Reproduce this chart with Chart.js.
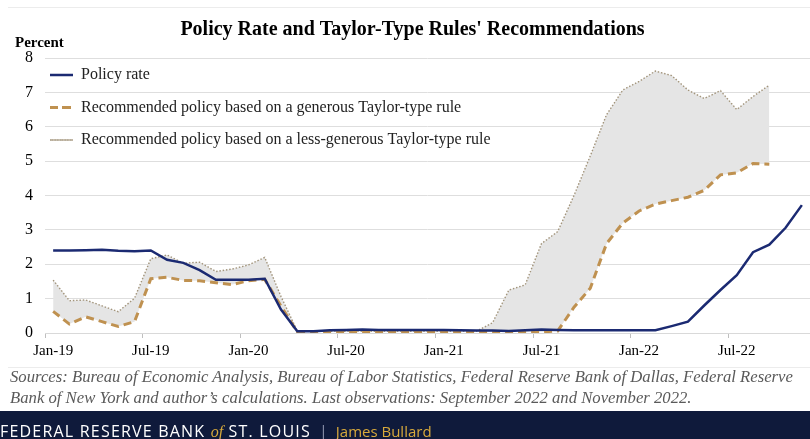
<!DOCTYPE html>
<html>
<head>
<meta charset="utf-8">
<script src="https://cdn.jsdelivr.net/npm/chart.js@4.4.1/dist/chart.umd.min.js"></script>
<style>
  body { margin: 0; width: 810px; height: 439px; overflow: hidden; background: #fff; font-family: "Liberation Serif", serif; }
  #wrap { position: relative; width: 810px; height: 368px; }
  .frame { position: absolute; left: 8px; top: 7px; right: 0; height: 359px; border-top: 1px solid #ececec; border-bottom: 1px solid #ececec; pointer-events: none; }
  .sources { position: absolute; left: 10px; top: 366px; font-style: italic; font-size: 16.7px; line-height: 21px; color: #5a5a5a; }
  .footer { position: absolute; left: 0; top: 411px; width: 810px; height: 28px; background: #0f1a3b; color: #fff;
            font-family: "Open Sans", sans-serif; font-size: 16px; letter-spacing: 1.2px; line-height: 28px; white-space: nowrap;
            padding-top: 6px; box-sizing: border-box; }
  .footer .of { font-style: italic; color: #d7a93c; font-family: "Liberation Serif", serif; letter-spacing: 0; }
  .footer .sep { color: #8a90a8; margin: 0 8px; letter-spacing: 0; }
  .footer .name { color: #d7a93c; font-size: 15px; letter-spacing: 0; }
</style>
</head>
<body>
<div id="wrap">
  <canvas id="chartLine"></canvas>
  <div class="frame"></div>
</div>
<div class="sources">Sources: Bureau of Economic Analysis, Bureau of Labor Statistics, Federal Reserve Bank of Dallas, Federal Reserve<br>Bank of New York and author’s calculations. Last observations: September 2022 and November 2022.</div>
<div class="footer">FEDERAL RESERVE BANK <span class="of">of</span> ST. LOUIS<span class="sep">|</span><span class="name">James Bullard</span></div>

<script>
// Meses Jan-19 .. Nov-22
const meses = [
    "Jan-19", "Feb-19", "Mar-19", "Apr-19", "May-19", "Jun-19", "Jul-19", "Aug-19", "Sep-19", "Oct-19", "Nov-19", "Dec-19",
    "Jan-20", "Feb-20", "Mar-20", "Apr-20", "May-20", "Jun-20", "Jul-20", "Aug-20", "Sep-20", "Oct-20", "Nov-20", "Dec-20",
    "Jan-21", "Feb-21", "Mar-21", "Apr-21", "May-21", "Jun-21", "Jul-21", "Aug-21", "Sep-21", "Oct-21", "Nov-21", "Dec-21",
    "Jan-22", "Feb-22", "Mar-22", "Apr-22", "May-22", "Jun-22", "Jul-22", "Aug-22", "Sep-22", "Oct-22", "Nov-22"
];

const policyRate = [
    2.40, 2.40, 2.41, 2.42, 2.39, 2.38, 2.40, 2.13, 2.04, 1.83, 1.55, 1.55,
    1.55, 1.58, 0.68, 0.05, 0.05, 0.08, 0.09, 0.10, 0.09, 0.09, 0.09, 0.09,
    0.09, 0.08, 0.07, 0.07, 0.06, 0.08, 0.10, 0.09, 0.08, 0.08, 0.08, 0.08,
    0.08, 0.08, 0.20, 0.33, 0.80, 1.25, 1.68, 2.35, 2.57, 3.06, 3.72
];

// generous Taylor-type rule (ends Sep-22)
const generousRule = [
    0.63, 0.26, 0.47, 0.33, 0.19, 0.33, 1.58, 1.62, 1.53, 1.52, 1.46, 1.41,
    1.52, 1.56, 0.78, 0.03, 0.03, 0.03, 0.03, 0.03, 0.03, 0.03, 0.03, 0.03,
    0.03, 0.03, 0.03, 0.03, 0.03, 0.03, 0.03, 0.06, 0.75, 1.30, 2.60, 3.20,
    3.55, 3.75, 3.85, 3.95, 4.15, 4.60, 4.66, 4.93, 4.91
];

// less-generous Taylor-type rule (ends Sep-22)
const lessGenerousRule = [
    1.54, 0.94, 0.96, 0.79, 0.62, 1.01, 2.16, 2.27, 2.03, 2.06, 1.79, 1.86,
    1.98, 2.20, 1.06, 0.06, 0.05, 0.05, 0.05, 0.05, 0.05, 0.05, 0.05, 0.05,
    0.05, 0.05, 0.05, 0.30, 1.25, 1.40, 2.60, 2.95, 4.00, 5.15, 6.35, 7.07,
    7.32, 7.62, 7.49, 7.07, 6.82, 7.05, 6.50, 6.88, 7.21
];

const yTicks = [0, 1, 2, 3, 4, 5, 6, 7, 8];

const serif = "'Liberation Serif', 'Times New Roman', serif";

// "Percent" arriba del eje y, y la leyenda dentro del area
const extras = {
    id: "extras",
    afterLayout(chart) {
        chart.legend.left = chart.chartArea.left - 11.5;
        chart.legend.top = chart.chartArea.top - 7.5;
    },
    afterDraw(chart) {
        const ctx = chart.ctx;
        ctx.save();
        ctx.font = "bold 15px " + serif;
        ctx.fillStyle = "#000";
        ctx.textBaseline = "middle";
        ctx.fillText("Percent", 15, chart.chartArea.top - 15);
        ctx.restore();
    }
};

new Chart(document.getElementById("chartLine"), {
    type: "line",
    data: {
        labels: meses,
        datasets: [{
            label: "Policy rate",
            data: policyRate,
            borderColor: "#1b2a72",
            backgroundColor: "#1b2a72",
            borderWidth: 2.5,
            pointRadius: 0,
            fill: false
        }, {
            label: "Recommended policy based on a generous Taylor-type rule",
            data: generousRule,
            borderColor: "#bf9150",
            backgroundColor: "#bf9150",
            borderWidth: 3,
            borderDash: [8, 5],
            pointRadius: 0,
            fill: false
        }, {
            label: "Recommended policy based on a less-generous Taylor-type rule",
            data: lessGenerousRule,
            borderColor: "#a3957c",
            backgroundColor: "#e5e5e5",
            borderWidth: 1.4,
            borderDash: [1.5, 1.8],
            pointRadius: 0,
            fill: "-1"
        }]
    },
    options: {
        responsive: true,
        maintainAspectRatio: false,
        animation: false,
        layout: { padding: { left: 15, right: 0, bottom: 4 } },
        plugins: {
            title: {
                display: true,
                text: "Policy Rate and Taylor-Type Rules' Recommendations",
                color: "#000",
                font: { family: serif, size: 20, weight: "bold" },
                padding: { top: 18, bottom: 16 }
            },
            legend: {
                position: "chartArea",
                align: "start",
                labels: {
                    boxWidth: 23,
                    boxHeight: 0,
                    padding: 16.5,
                    color: "#222",
                    font: { family: serif, size: 16 }
                }
            },
            tooltip: { enabled: false }
        },
        scales: {
            x: {
                offset: true,
                grid: {
                    offset: true,
                    drawOnChartArea: false,
                    tickLength: 5,
                    color: ctx => (ctx.index % 6 === 0 ? "#bfbfbf" : "rgba(0,0,0,0)")
                },
                border: { color: "#d9d9d9" },
                ticks: {
                    autoSkip: false,
                    maxRotation: 0,
                    padding: 4,
                    color: "#000",
                    font: { family: serif, size: 15 },
                    callback: function (value, index) {
                        return index % 6 === 0 ? this.getLabelForValue(value) : "";
                    }
                }
            },
            y: {
                min: yTicks[0],
                max: yTicks[yTicks.length - 1],
                afterFit: axis => { axis.width = 30; },
                afterBuildTicks: axis => { axis.ticks = yTicks.map(v => ({ value: v })); },
                grid: { color: "#dedede", drawTicks: false },
                border: { display: false },
                ticks: {
                    padding: 12,
                    color: "#000",
                    font: { family: serif, size: 16 }
                }
            }
        }
    },
    plugins: [extras]
});
</script>
</body>
</html>
